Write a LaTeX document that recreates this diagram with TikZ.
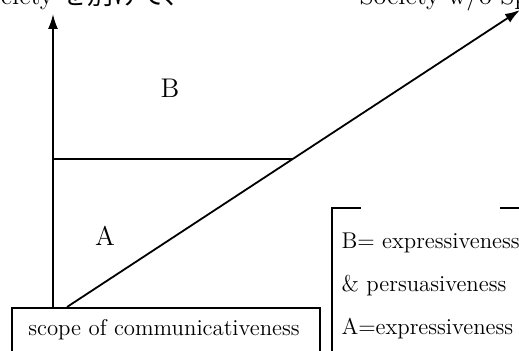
\documentclass[tikz,border=0pt]{standalone}
\usepackage{fontspec}
\newfontfamily\cjk{Noto Sans CJK JP}
\usetikzlibrary{arrows.meta}
\begin{document}
\begin{tikzpicture}[>={Latex[length=7.5pt,width=5pt]},x=0.5pt,y=-0.5pt,line width=0.9pt,
  keytext/.style={anchor=base west,font=\fontsize{11.4}{13}\selectfont}]
\def\boxwidth{154pt};
\useasboundingbox (0,0) rectangle (519,351);
\clip (0,0) rectangle (519,351);
\node[anchor=base east,font=\fontsize{13}{15}\selectfont] (soc1) at (198,5) {Society {\cjk を別けて、}};
\node[anchor=base west,font=\fontsize{13}{15}\selectfont] (soc2) at (352,5) {Society w/o Sp};
\coordinate (o) at (53,307);
\coordinate (top) at (53,14);
\coordinate (d0) at (67,307);
\coordinate (d1) at (520,10);
\coordinate (h0) at (53,159);
\coordinate (h1) at (292,159);
\draw[->] (o) -- (top);
\draw[->] (d0) -- (d1);
\draw (h0) -- (h1);
\node[font=\fontsize{13.5}{15}\selectfont] (B) at (170,88) {B};
\node[font=\fontsize{13.5}{15}\selectfont] (A) at (105,236) {A};
\node[draw,anchor=north west,minimum width=\boxwidth,minimum height=40pt,inner sep=0pt] (scope) at (11,307) {};
\node[font=\fontsize{11.4}{13}\selectfont] (scopetxt) at (164,330) {scope of communicativeness};
\draw (332,380) -- (332,208) -- (361,208);
\draw (500,208) -- (530,208);
\node[keytext] (key1) at (334,249) {B= expressiveness};
\node[keytext] (key2) at (334,292) {\& persuasiveness};
\node[keytext] (key3) at (334,335) {A=expressiveness};
\end{tikzpicture}
\end{document}
